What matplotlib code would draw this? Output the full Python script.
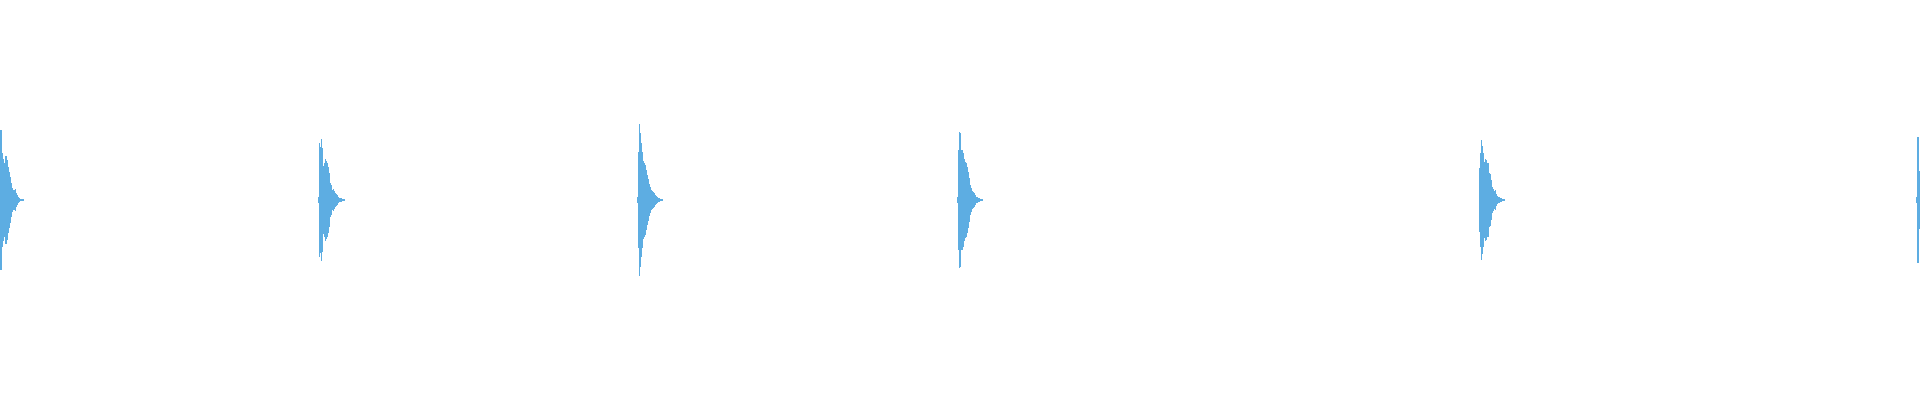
import matplotlib
matplotlib.use("Agg")
import matplotlib.pyplot as plt
import numpy as np

# Waveform peak bins (one bin per pixel column); amplitude normalized to +-1
total_bins = 1920
onsets = [0, 318, 637, 957, 1479, 1916]

burst1 = [0.35, 0.35, 0.235, 0.205, 0.185, 0.22, 0.22, 0.2, 0.165, 0.14, 0.115,
          0.085, 0.06, 0.05, 0.05, 0.055, 0.035, 0.025, 0.017, 0.012, 0.007,
          0.007, 0.007, 0.005]
burst2 = [0.015, 0.283, 0.263, 0.303, 0.258, 0.17, 0.187, 0.203, 0.197, 0.183,
          0.165, 0.133, 0.083, 0.075, 0.05, 0.053, 0.047, 0.037, 0.03, 0.023,
          0.017, 0.012, 0.008, 0.008, 0.005, 0.005, 0.005]
burst3 = [0.015, 0.24, 0.38, 0.333, 0.283, 0.24, 0.195, 0.185, 0.175, 0.15,
          0.125, 0.103, 0.08, 0.067, 0.05, 0.047, 0.042, 0.033, 0.025, 0.02,
          0.015, 0.01, 0.01, 0.005, 0.005, 0.005]
burst4 = [0.015, 0.25, 0.342, 0.333, 0.25, 0.25, 0.233, 0.203, 0.192, 0.183,
          0.165, 0.14, 0.108, 0.075, 0.058, 0.047, 0.042, 0.033, 0.025, 0.017,
          0.013, 0.008, 0.008, 0.005, 0.005, 0.005]
burst5 = [0.158, 0.233, 0.3, 0.27, 0.233, 0.192, 0.203, 0.2, 0.187, 0.183,
          0.133, 0.128, 0.1, 0.063, 0.053, 0.047, 0.05, 0.03, 0.02, 0.017,
          0.015, 0.01, 0.01, 0.005, 0.005, 0.005]
burst6 = [0.015, 0.317, 0.317, 0.143]

bursts = [burst1, burst2, burst3, burst4, burst5, burst6]
wave_color = "#5DADE2"

fig = plt.figure(figsize=(19.2, 4.0), dpi=100, facecolor="white")
ax = fig.add_axes([0, 0, 1, 1])
ax.set_facecolor("white")

for start, env in zip(onsets, bursts):
    env = np.asarray(env)
    cols = start + np.arange(len(env))
    ax.bar(cols, 2 * env, bottom=-env, width=1.0, align="edge",
           color=wave_color, linewidth=0)

ax.set_xlim(0, total_bins)
ax.set_ylim(-1, 1)
ax.axis("off")

fig.savefig("out.png", dpi=100, facecolor="white")
